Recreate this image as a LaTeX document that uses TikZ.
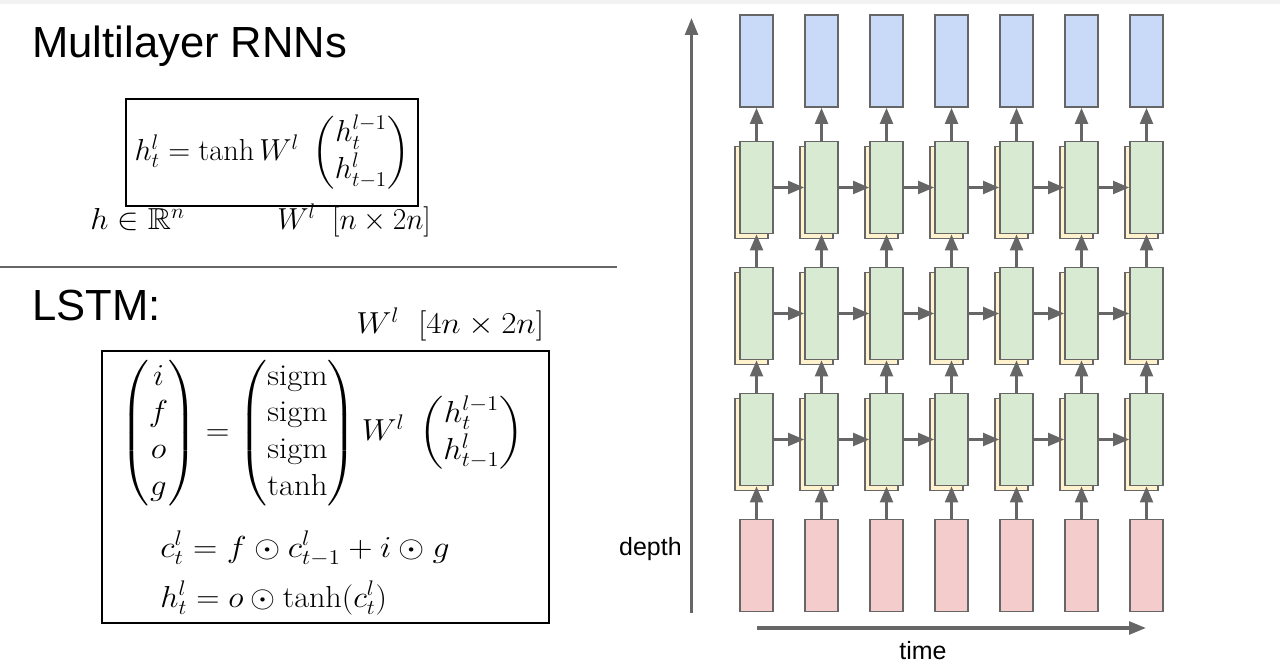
\documentclass[tikz,border=0pt]{standalone}
\usepackage{amsmath,amssymb}
\usepackage{fontspec}
\setsansfont{Liberation Sans}
\usetikzlibrary{arrows.meta}

\definecolor{outblue}{HTML}{C9DAF8}
\definecolor{hidgreen}{HTML}{D9EAD3}
\definecolor{cellyellow}{HTML}{FFF2CC}
\definecolor{inred}{HTML}{F4CCCC}
\definecolor{linegray}{HTML}{666666}

\newcommand{\eqsize}{\fontsize{17.28}{21}\selectfont}
\newcommand{\titlesize}{\sffamily\fontsize{24.8}{29}\selectfont}
\newcommand{\axissize}{\sffamily\fontsize{14.2}{17}\selectfont}

\tikzset{
  cellbox/.style={draw=linegray, line width=0.85pt, inner sep=0pt,
    minimum width=0.66cm, minimum height=1.84cm},
  outbox/.style={cellbox, fill=outblue},
  hidbox/.style={cellbox, fill=hidgreen},
  backbox/.style={cellbox, fill=cellyellow},
  inbox/.style={cellbox, fill=inred},
  flow/.style={draw=linegray, line width=1.8pt,
    -{Triangle[length=9.2pt,width=7.2pt]}},
  axis/.style={draw=linegray, line width=1.8pt,
    -{Triangle[length=9.6pt,width=7.2pt]}},
  eqbox/.style={draw, line width=1.1pt, inner sep=0pt},
  plain/.style={inner sep=0pt, font=\eqsize},
  wide/.style={xscale=#1, transform shape}
}

\begin{document}
\begin{tikzpicture}[x=0.02cm,y=-0.02cm]

\useasboundingbox (0,0) rectangle (1280,671);
\fill[black!5] (0,0) rectangle (1280,4);

% Multilayer RNNs
\node[inner sep=0pt, anchor=base west, font=\titlesize] (rnntitle) at (32,58)
{Multilayer RNNs};

\node[eqbox, minimum width=5.84cm, minimum height=2.14cm, font=\eqsize] (rnnbox) at (272,152.5)
{$h_t^l = \tanh W^l \; \begin{pmatrix} h_t^{l-1} \\ h_{t-1}^l \end{pmatrix}$};

\node[plain, anchor=base west, wide=1.06] (hdim) at (90,230)
{$h \in \mathbb{R}^n$};

\node[plain, anchor=base west, wide=0.97] (wdim) at (277,230)
{$W^l \;\; [n \times 2n]$};

\draw[linegray, line width=1.2pt] (0,267) -- (617,267);

% LSTM
\node[inner sep=0pt, anchor=base west, font=\titlesize] (lstmtitle) at (32,321)
{LSTM:};

\node[plain, anchor=base west, wide=1.09] (wlstm) at (356,334)
{$W^l \;\; [4n \times 2n]$};

\node[eqbox, minimum width=8.94cm, minimum height=5.44cm] (lstmbox) at (325.5,487) {};

\node[plain, wide=1.08] (gates) at (322,433)
{$\begin{pmatrix} i \\ f \\ o \\ g \end{pmatrix} =
\begin{pmatrix} \mathrm{sigm} \\ \mathrm{sigm} \\ \mathrm{sigm} \\ \tanh \end{pmatrix}
W^l \; \begin{pmatrix} h_t^{l-1} \\ h_{t-1}^l \end{pmatrix}$};

\node[plain, anchor=base west, wide=1.11] (celleq) at (160,557)
{$c_t^l = f \odot c_{t-1}^l + i \odot g$};

\node[plain, anchor=base west, wide=1.06] (hiddeneq) at (160,607)
{$h_t^l = o \odot \tanh(c_t^l)$};

% Grid
\foreach \col in {1,...,7}
{
\pgfmathsetmacro{\cx}{756.5+65*(\col-1)}
\node[outbox] (out\col) at (\cx,61) {};
\foreach \row/\cy in {1/187.5,2/313.5,3/439.5}
{
\node[backbox] (back\row\col) at (\cx-5,\cy+5) {};
\node[hidbox] (h\row\col) at (\cx,\cy) {};
}
\node[inbox] (in\col) at (\cx,565.5) {};
}

\foreach \col in {1,...,7}
{
\draw[flow] (in\col) -- (h3\col);
\draw[flow] (h3\col) -- (h2\col);
\draw[flow] (h2\col) -- (h1\col);
\draw[flow] (h1\col) -- (out\col);
}

\foreach \col [count=\nxt from 2] in {1,...,6}
{
\foreach \row in {1,2,3}
{
\draw[flow] (h\row\col) -- (h\row\nxt);
}
}

% Axes
\coordinate (d0) at (691.5,613);
\coordinate (d1) at (691.5,18);
\coordinate (t0) at (757,628);
\coordinate (t1) at (1146,628);

\draw[axis] (d0) -- (d1);
\draw[axis] (t0) -- (t1);

\node[inner sep=0pt, anchor=base east, font=\axissize] (depth) at (682,555)
{depth};

\node[inner sep=0pt, anchor=base west, font=\axissize] (time) at (899,659)
{time};

\end{tikzpicture}
\end{document}
